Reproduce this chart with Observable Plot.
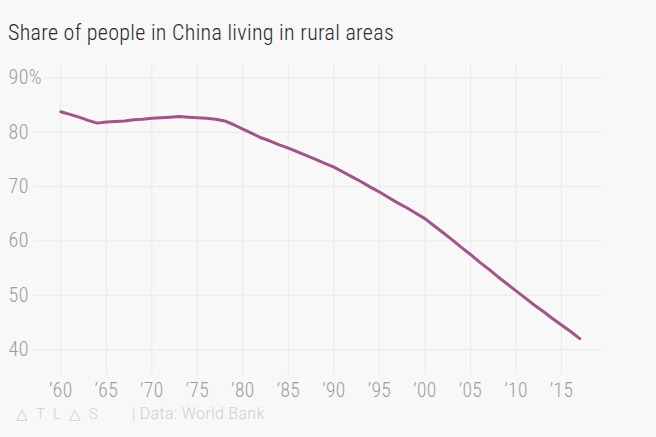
<!DOCTYPE html>
<html><head><meta charset="utf-8">
<script src="https://cdn.jsdelivr.net/npm/d3@7"></script>
<script src="https://cdn.jsdelivr.net/npm/@observablehq/plot@0.6"></script>
<style>
html,body{margin:0;padding:0;background:#f8f8f8;}
#wrap{position:relative;width:656px;height:437px;overflow:hidden;font-family:Roboto,sans-serif;}
#title{position:absolute;left:8px;top:20px;font-size:22px;font-weight:300;font-stretch:condensed;letter-spacing:0.3px;color:#2a2a2a;white-space:nowrap;}
#chart{position:absolute;left:0;top:55px;}
#foot{position:absolute;left:16px;top:404px;font-size:16px;letter-spacing:0.3px;color:#cfcfcf;white-space:nowrap;font-weight:300;}
#foot .logo{letter-spacing:8px;margin-right:26px;font-size:15px;}
</style></head>
<body><div id="wrap">
<div id="title">Share of people in China living in rural areas</div>
<div id="chart"></div>
<div id="foot"><span class="logo">△TL△S</span>| Data: World Bank</div>
</div>
<script>
const years = [1960,1961,1962,1963,1964,1965,1966,1967,1968,1969,1970,1971,1972,1973,1974,1975,1976,1977,1978,1979,1980,1981,1982,1983,1984,1985,1986,1987,1988,1989,1990,1991,1992,1993,1994,1995,1996,1997,1998,1999,2000,2001,2002,2003,2004,2005,2006,2007,2008,2009,2010,2011,2012,2013,2014,2015,2016,2017];
const ruralShare = [83.8,83.3,82.8,82.2,81.7,81.9,82.0,82.1,82.3,82.4,82.6,82.7,82.8,82.9,82.8,82.7,82.6,82.4,82.1,81.4,80.6,79.8,79.0,78.4,77.7,77.1,76.4,75.7,75.0,74.3,73.6,72.7,71.8,70.9,69.9,69.0,68.0,67.0,66.1,65.1,64.1,62.8,61.5,60.2,58.8,57.5,56.1,54.8,53.4,52.1,50.8,49.5,48.2,47.0,45.7,44.5,43.3,42.0];
const xTicks = [1960,1965,1970,1975,1980,1985,1990,1995,2000,2005,2010,2015];
const yTicks = [40,50,60,70,80,90];

const data = years.map((y,i)=>({year:y, rural:ruralShare[i]}));
const bg = "#f8f8f8";
const grid = "#e9e9e9";
const tickColor = "#9c9c9c";

const chart = Plot.plot({
  width: 656,
  height: 350,
  marginLeft: 33,
  marginRight: 54,
  marginTop: 9,
  marginBottom: 30,
  style: {background: "transparent", fontFamily: "Roboto,sans-serif", fontStretch: "condensed", fontWeight: 300, letterSpacing: "0.4px"},
  x: {domain: [1957, 2019.5], label: null},
  y: {domain: [35.2, 92.5], label: null},
  marks: [
    Plot.gridX(xTicks, {stroke: grid, strokeOpacity: 1}),
    Plot.ruleY(yTicks, {stroke: grid}),
    Plot.axisX(xTicks, {tickSize: 0, tickPadding: 8, label: null, tickFormat: d => "\u2019" + String(d).slice(2), fontSize: 19.5, fill: tickColor}),
    Plot.axisY({ticks: [], label: null}),
    Plot.text(yTicks, {y: d => d, text: d => d === 90 ? d + "%" : String(d), frameAnchor: "left", textAnchor: "start", dx: -25, fontSize: 20, fill: tickColor, stroke: bg, strokeWidth: 6, paintOrder: "stroke"}),
    Plot.line(data, {x: "year", y: "rural", stroke: "#a5528a", strokeWidth: 3})
  ]
});
document.getElementById("chart").appendChild(chart);
</script>
</body></html>
